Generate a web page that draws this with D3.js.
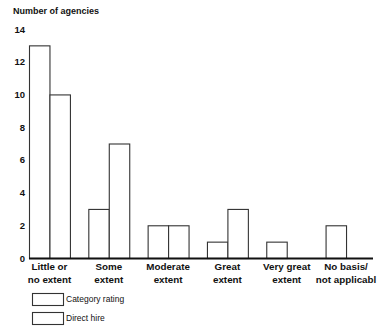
<!DOCTYPE html>
<html><head><meta charset="utf-8">
<script src="https://cdn.jsdelivr.net/npm/d3@7"></script>
<style>body{margin:0;background:#fff}svg{display:block}text{font-family:"Liberation Sans",Arial,sans-serif;fill:#111}</style>
</head><body><svg id="c" width="377" height="334"></svg>
<script>
const categories = [["Little or","no extent"],["Some","extent"],["Moderate","extent"],["Great","extent"],["Very great","extent"],["No basis/","not applicabl"]];
const seriesNames = ["Category rating","Direct hire"];
const categoryRating = [13,3,2,1,1,2];
const directHire = [10,7,2,3,0,0];
const yTicks = [0,2,4,6,8,10,12,14];

const svg = d3.select("#c");
const keys = categories.map((c,i)=>"c"+i);
const x0 = d3.scaleBand().domain(keys).range([29,366.5]).paddingInner(0.31).paddingOuter(0);
const x1 = d3.scaleBand().domain(seriesNames).range([0,x0.bandwidth()]).padding(0);
const y = d3.scaleLinear().domain([0,14]).range([258,29]);

svg.append("text").attr("x",13).attr("y",14).attr("font-size",9).attr("font-weight","bold").text("Number of agencies");

const ya = svg.append("g").attr("transform","translate(25,0)").call(d3.axisLeft(y).tickValues(yTicks).tickSize(0).tickPadding(0).tickFormat(d3.format("d")));
ya.select(".domain").remove();
ya.selectAll("text").attr("font-size",9.5).attr("font-weight","bold").attr("font-family","Liberation Sans, Arial, sans-serif").attr("fill","#111");

const data = [categoryRating, directHire];
const g = svg.append("g");
keys.forEach((k,i)=>{
  seriesNames.forEach((s,j)=>{
    const v = data[j][i];
    if(v>0){
      g.append("rect").attr("x",x0(k)+x1(s)+0.5).attr("y",y(v)+0.5)
       .attr("width",x1.bandwidth()).attr("height",y(0)-y(v))
       .attr("fill","#fff").attr("stroke","#333").attr("stroke-width",1.1);
    }
  });
});

svg.append("line").attr("x1",29).attr("x2",373).attr("y1",y(0)+0.5).attr("y2",y(0)+0.5).attr("stroke","#111").attr("stroke-width",2.2);

const xl = svg.append("g");
keys.forEach((k,i)=>{
  const cx = x0(k)+x0.bandwidth()/2;
  const t = xl.append("text").attr("x",cx).attr("y",270).attr("text-anchor","middle").attr("font-size",9.8).attr("font-weight","bold");
  categories[i].forEach((line,li)=>{
    t.append("tspan").attr("x",cx).attr("dy",li===0?0:13).text(line);
  });
});

const lg = svg.append("g");
seriesNames.forEach((s,j)=>{
  const yy = 293 + j*19;
  lg.append("rect").attr("x",32.5).attr("y",yy+0.5).attr("width",31).attr("height",12).attr("fill","#fff").attr("stroke","#333").attr("stroke-width",1.1);
  lg.append("text").attr("x",66).attr("y",yy+9).attr("font-size",8.5).text(s);
});
</script></body></html>
